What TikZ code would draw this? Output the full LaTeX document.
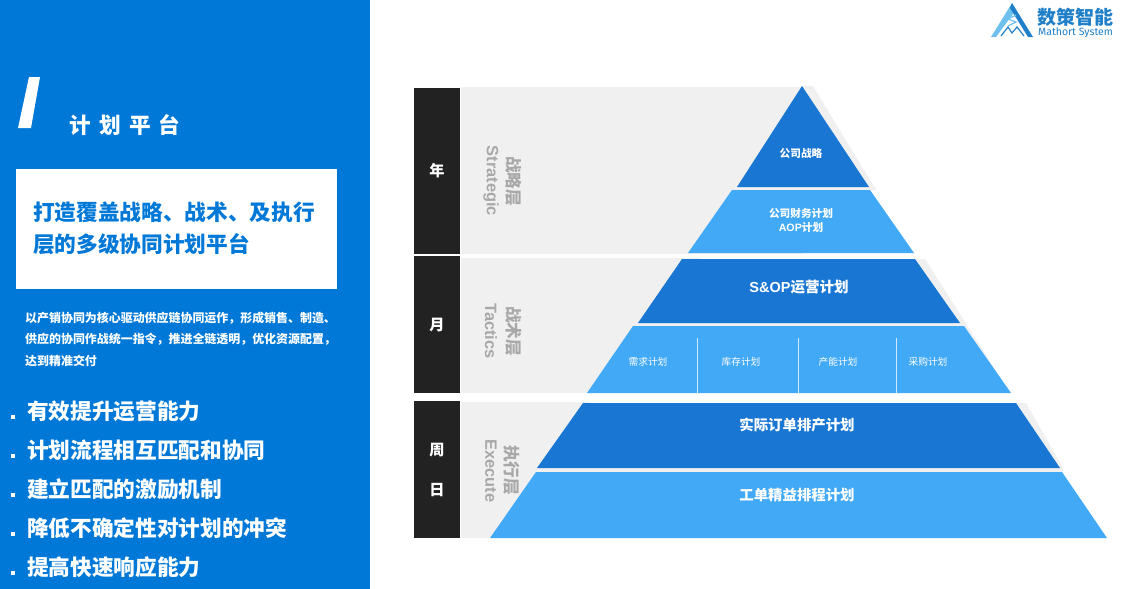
\documentclass[tikz,border=0pt]{standalone}
\usepackage{fontspec}
\setmainfont{Noto Sans CJK SC}
\newfontfamily\latinfont{Liberation Sans}
\newfontfamily\logofont{Fira Sans}
\definecolor{panelblue}{HTML}{0078D7}
\definecolor{darktier}{HTML}{1976D2}
\definecolor{lighttier}{HTML}{42A9F6}
\definecolor{bandgrey}{HTML}{F0F0F0}
\definecolor{labelgrey}{HTML}{A8A8A8}
\definecolor{barblack}{HTML}{222222}
\definecolor{logolight}{HTML}{6FC0EE}
\definecolor{logodark}{HTML}{1F7FC8}
\tikzset{
    tier/.style={fill=#1, draw=none},
    band/.style={fill=bandgrey, draw=none},
    bar/.style={fill=barblack, draw=none},
    bartext/.style={text=white, font=\fontsize{13}{13}\selectfont\bfseries, inner sep=0pt},
    layertext/.style={text=labelgrey, rotate=-90, font=\fontsize{14.2}{14}\selectfont\bfseries, inner sep=0pt},
    layereng/.style={text=labelgrey, rotate=-90, font=\fontsize{14}{14}\selectfont\latinfont\bfseries, inner sep=0pt},
    tiertext/.style={text=white, font=\fontsize{#1}{#1}\selectfont\bfseries, inner sep=0pt},
    celltext/.style={text=white, font=\fontsize{8.3}{8.3}\selectfont, inner sep=0pt},
    pointtext/.style={text=white, anchor=west, font=\fontsize{18.5}{18.5}\selectfont\bfseries, inner sep=0pt},
    dottext/.style={fill=white, draw=none, minimum size=2.6pt, inner sep=0pt},
    paratext/.style={text=white, anchor=west, font=\fontsize{10.2}{10.2}\selectfont\bfseries, inner sep=0pt},
    headtext/.style={text=panelblue, anchor=west, font=\fontsize{18.5}{18.5}\selectfont\bfseries, inner sep=0pt}
}
\begin{document}
\begin{tikzpicture}[x=0.03cm, y=-0.03cm]
    \useasboundingbox (0, 0) rectangle (1142, 589);
    % Left panel:
    \fill[panelblue] (0, 0) rectangle (370, 589);
    \fill[white] (29, 77) -- (40, 77) -- (31, 128) -- (18, 128) -- cycle;
    \node[text=white, font=\fontsize{18.5}{18.5}\selectfont\bfseries, inner sep=0pt] (title) at (125, 125) {计\hspace{7pt}划\hspace{7pt}平\hspace{7pt}台};
    \fill[white] (16, 169) rectangle (337, 289);
    \node[headtext] (headone) at (33, 212) {打造覆盖战略、战术、及执行};
    \node[headtext] (headtwo) at (33, 244) {层的多级协同计划平台};
    \node[paratext] (paraone) at (25, 318) {以产销协同为核心驱动供应链协同运作^^^^ff0c形成销售、制造、};
    \node[paratext] (paratwo) at (25, 339) {供应的协同作战统一指令^^^^ff0c推进全链透明^^^^ff0c优化资源配置^^^^ff0c};
    \node[paratext] (parathree) at (25, 361) {达到精准交付};
    \foreach \py/\name/\txt in {411/pointa/有效提升运营能力, 450/pointb/计划流程相互匹配和协同, 489/pointc/建立匹配的激励机制, 528/pointd/降低不确定性对计划的冲突, 567/pointe/提高快速响应能力} {
        \node[dottext] (dot\name) at (13, \py+6) {};
        \node[pointtext] (\name) at (27, \py) {\txt};
    }
    % Bands and bars:
    \draw[band] (461, 87) rectangle (802, 254);
    \draw[band] (461, 258) rectangle (700, 393);
    \draw[band] (461, 402) rectangle (590, 538);
    \draw[bar] (414, 88) rectangle (460, 254);
    \draw[bar] (414, 256) rectangle (460, 393);
    \draw[bar] (414, 401) rectangle (460, 538);
    \draw[band] (802, 86) -- (813, 86) -- (876, 190) -- (870, 190) -- cycle;
    \draw[band] (730, 187) rectangle (876, 190);
    \draw[band] (915, 259) -- (925, 259) -- (1010, 393) -- (960, 323) -- cycle;
    \draw[band] (630, 323) rectangle (966, 326);
    \draw[band] (1016, 403) -- (1026, 403) -- (1063, 468) -- (1060, 468) -- cycle;
    \draw[band] (530, 468) rectangle (1063, 472);
    % Pyramid tiers:
    \draw[tier=darktier] (802, 86) -- (869, 187) -- (737, 187) -- cycle;
    \draw[tier=lighttier] (732, 190) -- (870, 190) -- (914, 253) -- (688, 253) -- cycle;
    \draw[tier=darktier] (682, 259) -- (915, 259) -- (960, 323) -- (638, 323) -- cycle;
    \draw[tier=lighttier] (633, 326) -- (964, 326) -- (1011, 393) -- (587, 393) -- cycle;
    \draw[tier=darktier] (583, 403) -- (1016, 403) -- (1060, 468) -- (537, 468) -- cycle;
    \draw[tier=lighttier] (536, 472) -- (1062, 472) -- (1107, 538) -- (490, 538) -- cycle;
    \coordinate (dividera) at (697, 338);
    \coordinate (dividerb) at (798, 338);
    \coordinate (dividerc) at (896, 338);
    \coordinate (basea) at (697, 393);
    \coordinate (baseb) at (798, 393);
    \coordinate (basec) at (896, 393);
    \draw[white!75!lighttier, line width=0.6pt] (dividera) -- (basea);
    \draw[white!75!lighttier, line width=0.6pt] (dividerb) -- (baseb);
    \draw[white!75!lighttier, line width=0.6pt] (dividerc) -- (basec);
    % Labels:
    \node[bartext] (year) at (437, 171) {年};
    \node[bartext] (month) at (437, 325) {月};
    \node[bartext] (week) at (437, 450) {周};
    \node[bartext] (day) at (437, 490) {日};
    \node[layertext] (strategic) at (514, 181) {战略层};
    \node[layereng] (strategiceng) at (491, 181) {Strategic};
    \node[layertext] (tactics) at (514, 331) {战术层};
    \node[layereng] (tacticseng) at (491, 331) {Tactics};
    \node[layertext] (execute) at (512, 470) {执行层};
    \node[layereng] (executeeng) at (491, 471) {Execute};
    \node[tiertext=9.1] (corp) at (801, 153) {公司战略};
    \node[tiertext=9.1] (finance) at (801, 213) {公司财务计划};
    \node[tiertext=9.1] (aop) at (801, 227) {{\latinfont AOP}计划};
    \node[tiertext=12.4] (sop) at (799, 287) {{\latinfont S\&OP}运营计划};
    \node[celltext] (demand) at (648, 362) {需求计划};
    \node[celltext] (stock) at (741, 362) {库存计划};
    \node[celltext] (capacity) at (838, 362) {产能计划};
    \node[celltext] (purchase) at (928, 362) {采购计划};
    \node[tiertext=12.3] (order) at (797, 425) {实际订单排产计划};
    \node[tiertext=12.3] (job) at (797, 495) {工单精益排程计划};
    % Logo:
    \fill[logolight] (1012, 3) -- (1016, 10) -- (996, 37) -- (991, 37) -- cycle;
    \fill[logodark] (1012, 3) -- (1033, 37) -- (1028, 37) -- (1010, 8) -- cycle;
    \draw[logodark, line width=1pt] (1001, 36) -- (1008, 27) -- (1012, 33) -- (1017, 27) -- (1024, 36);
    \draw[logolight, line width=1pt] (1016, 15) -- (1008, 19) -- (1016, 22) -- (1008, 26);
    \node[text=logodark, font=\fontsize{16.2}{16}\selectfont\bfseries, inner sep=0pt] (logoname) at (1075.5, 17) {数策智能};
    \node[text=logodark, font=\fontsize{9}{9}\selectfont\logofont, inner sep=0pt] (logoeng) at (1075.5, 33) {Mathort System};
\end{tikzpicture}
\end{document}
